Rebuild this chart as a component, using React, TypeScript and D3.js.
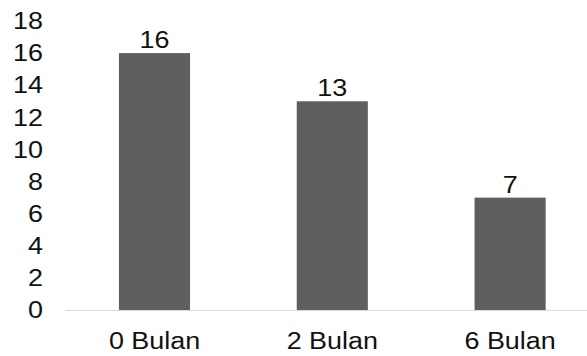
import React from "react";
import * as d3 from "d3";

const categories: string[] = ["0 Bulan", "2 Bulan", "6 Bulan"];
const values: number[] = [16, 13, 7];
const yTicks: number[] = [0, 2, 4, 6, 8, 10, 12, 14, 16, 18];

const W = 587;
const H = 356;
const FONT = "'Liberation Sans', Arial, Helvetica, sans-serif";
const FS = 23;
const SX = 1.17; // horizontal stretch of the lettering

const x = d3
  .scaleBand<string>()
  .domain(categories)
  .range([65.6, 599])
  .paddingInner(0.6)
  .paddingOuter(0.3);

const y = d3.scaleLinear().domain([0, 18]).range([310, 21]);

function Label({ tx, ty, anchor, children }: { tx: number; ty: number; anchor: string; children: React.ReactNode }) {
  return (
    <text
      transform={`translate(${tx},${ty}) scale(${SX},1)`}
      textAnchor={anchor}
      fontFamily={FONT}
      fontSize={FS}
      fill="#111"
    >
      {children}
    </text>
  );
}

export default function App() {
  return (
    <svg
      width={W}
      height={H}
      style={{ position: "absolute", left: 0, top: 0, background: "#fff" }}
    >
      {/* value axis labels */}
      {yTicks.map((t) => (
        <Label key={t} tx={43} ty={y(t) + 8.2} anchor="end">
          {t}
        </Label>
      ))}

      {/* bars */}
      {categories.map((c, i) => (
        <rect
          key={c}
          x={x(c)!}
          y={y(values[i])}
          width={x.bandwidth()}
          height={y(0) - y(values[i])}
          fill="#5f5f5f"
        />
      ))}

      {/* category baseline */}
      <line x1={x.range()[0]} x2={x.range()[1]} y1={y(0) + 0.5} y2={y(0) + 0.5} stroke="#d9d9d9" strokeWidth={1} />

      {/* data labels */}
      {categories.map((c, i) => (
        <Label key={c} tx={x(c)! + x.bandwidth() / 2} ty={y(values[i]) - 5} anchor="middle">
          {values[i]}
        </Label>
      ))}

      {/* category labels */}
      {categories.map((c) => (
        <Label key={c} tx={x(c)! + x.bandwidth() / 2} ty={349} anchor="middle">
          {c}
        </Label>
      ))}
    </svg>
  );
}
